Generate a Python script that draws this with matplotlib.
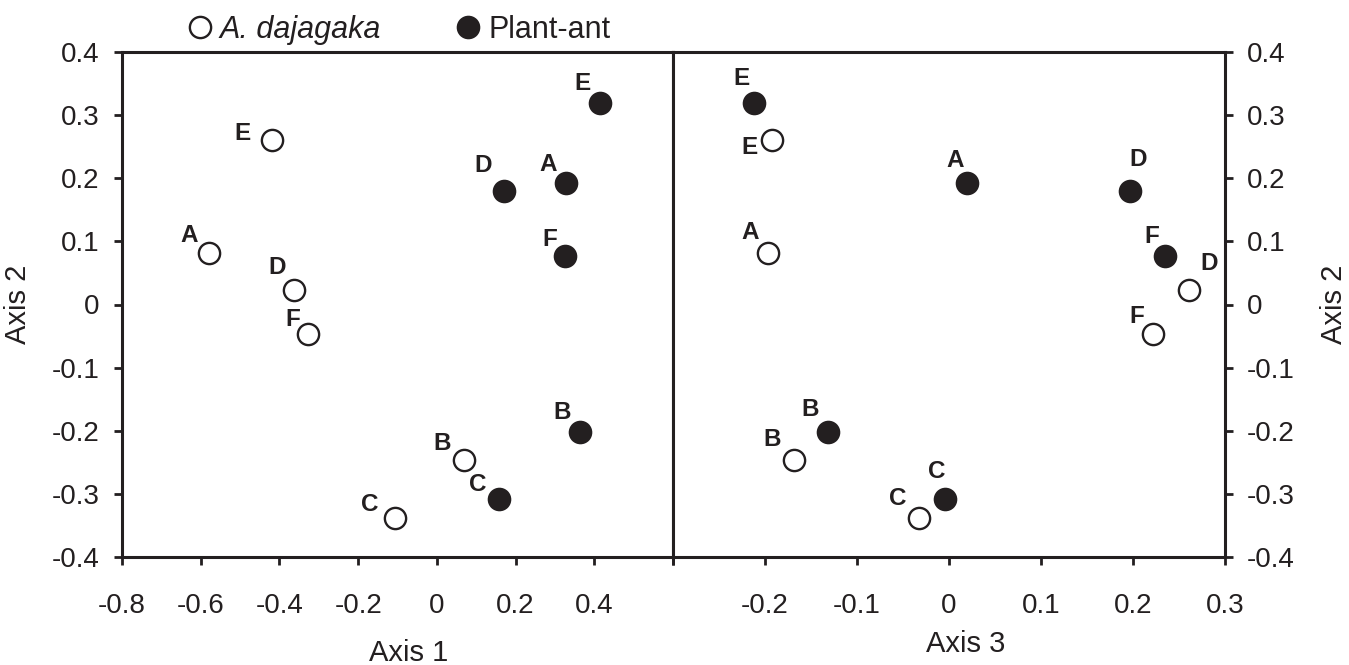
import matplotlib
matplotlib.use("Agg")
import matplotlib.pyplot as plt
from matplotlib.lines import Line2D

plt.rcParams['font.family'] = ['Liberation Sans', 'DejaVu Sans']

# ---- data ----
sites = ["A", "B", "C", "D", "E", "F"]
# A. dajagaka (open circles)
daj_axis1 = [-0.579, 0.069, -0.106, -0.363, -0.419, -0.327]
daj_axis2 = [0.081, -0.247, -0.339, 0.023, 0.261, -0.047]
daj_axis3 = [-0.197, -0.169, -0.033, 0.261, -0.192, 0.222]
# Plant-ant (filled circles)
ant_axis1 = [0.328, 0.364, 0.158, 0.170, 0.414, 0.325]
ant_axis2 = [0.192, -0.202, -0.308, 0.180, 0.319, 0.077]
ant_axis3 = [0.020, -0.131, -0.004, 0.197, -0.212, 0.235]

x1_ticks = [-0.8, -0.6, -0.4, -0.2, 0, 0.2, 0.4, 0.6]
x1_labels = ["-0.8", "-0.6", "-0.4", "-0.2", "0", "0.2", "0.4", ""]
x3_ticks = [-0.3, -0.2, -0.1, 0, 0.1, 0.2, 0.3]
x3_labels = ["", "-0.2", "-0.1", "0", "0.1", "0.2", "0.3"]
y_ticks = [-0.4, -0.3, -0.2, -0.1, 0, 0.1, 0.2, 0.3, 0.4]
y_labels = ["-0.4", "-0.3", "-0.2", "-0.1", "0", "0.1", "0.2", "0.3", "0.4"]

# label offsets in pixels (layout only)
off_daj_1 = {"A": (-20, 18), "B": (-22, 17), "C": (-25, 14), "D": (-17, 22), "E": (-29, 6), "F": (-15, 15)}
off_ant_1 = {"A": (-18, 19), "B": (-18, 20), "C": (-21, 14), "D": (-21, 25), "E": (-17, 20), "F": (-15, 16)}
off_daj_3 = {"A": (-18, 21), "B": (-21, 21), "C": (-21, 20), "D": (20, 26), "E": (-23, -8), "F": (-16, 18)}
off_ant_3 = {"A": (-12, 23), "B": (-18, 23), "C": (-9, 27), "D": (8, 31), "E": (-12, 25), "F": (-13, 19)}

W, H = 1349, 665
fig = plt.figure(figsize=(W / 100, H / 100), dpi=100)
L, M, R, T, B = 122, 673, 1225, 52, 557
ax1 = fig.add_axes([L / W, 1 - B / H, (M - L) / W, (B - T) / H])
ax2 = fig.add_axes([M / W, 1 - B / H, (R - M) / W, (B - T) / H])

ink = "#231f20"
ms = 15.3
mew = 1.7
tick_fs = 20
lab_fs = 21
pt_fs = 17.5


def style(ax):
    for s in ax.spines.values():
        s.set_linewidth(2.2)
        s.set_color(ink)
    ax.tick_params(direction="out", length=6, width=2.0, colors=ink,
                   labelsize=tick_fs, pad=10)
    ax.tick_params(axis="x", pad=20)
    ax.set_ylim(-0.4, 0.4)


def draw(ax, xs_o, ys_o, xs_f, ys_f, off_o, off_f):
    ax.plot(xs_o, ys_o, "o", ms=ms, mfc="white", mec=ink, mew=mew, zorder=3)
    ax.plot(xs_f, ys_f, "o", ms=ms, mfc=ink, mec=ink, mew=mew, zorder=3)
    for s, x, y in zip(sites, xs_o, ys_o):
        dx, dy = off_o[s]
        ax.annotate(s, (x, y), xytext=(dx, dy), textcoords="offset pixels",
                    ha="center", va="center", fontsize=pt_fs, fontweight="bold", color=ink)
    for s, x, y in zip(sites, xs_f, ys_f):
        dx, dy = off_f[s]
        ax.annotate(s, (x, y), xytext=(dx, dy), textcoords="offset pixels",
                    ha="center", va="center", fontsize=pt_fs, fontweight="bold", color=ink)


style(ax1)
style(ax2)
ax1.set_xlim(-0.8, 0.6)
ax2.set_xlim(-0.3, 0.3)
ax1.set_xticks(x1_ticks)
ax1.set_xticklabels(x1_labels)
ax2.set_xticks(x3_ticks)
ax2.set_xticklabels(x3_labels)
ax1.set_yticks(y_ticks)
ax1.set_yticklabels(y_labels)
ax2.set_yticks(y_ticks)
ax2.set_yticklabels(y_labels)
ax2.yaxis.tick_right()
ax2.yaxis.set_label_position("right")
ax2.tick_params(axis="y", left=False, right=True)

draw(ax1, daj_axis1, daj_axis2, ant_axis1, ant_axis2, off_daj_1, off_ant_1)
draw(ax2, daj_axis3, daj_axis2, ant_axis3, ant_axis2, off_daj_3, off_ant_3)

ax1.set_xlabel("Axis 1", fontsize=lab_fs, color=ink)
ax2.set_xlabel("Axis 3", fontsize=lab_fs, color=ink)
ax1.xaxis.set_label_coords(0.52, -0.163)
ax2.xaxis.set_label_coords(0.53, -0.145)
ax1.set_ylabel("Axis 2", fontsize=lab_fs, color=ink, labelpad=14)
ax2.set_ylabel("Axis 2", fontsize=lab_fs, color=ink, labelpad=18, rotation=90)

handles = [
    Line2D([], [], ls="none", marker="o", ms=ms, mfc="white", mec=ink, mew=mew),
    Line2D([], [], ls="none", marker="o", ms=ms, mfc=ink, mec=ink, mew=mew),
]
leg = fig.legend(handles, ["A. dajagaka", "Plant-ant"], ncol=2, loc="center",
                 bbox_to_anchor=(396 / W, 1 - 30 / H), frameon=False,
                 fontsize=22, handletextpad=0.05, columnspacing=2.25, borderpad=0,
                 handlelength=1.2)
leg.get_texts()[0].set_fontstyle("italic")
for t in leg.get_texts():
    t.set_color(ink)

fig.savefig("out.png", dpi=100, facecolor="white")
